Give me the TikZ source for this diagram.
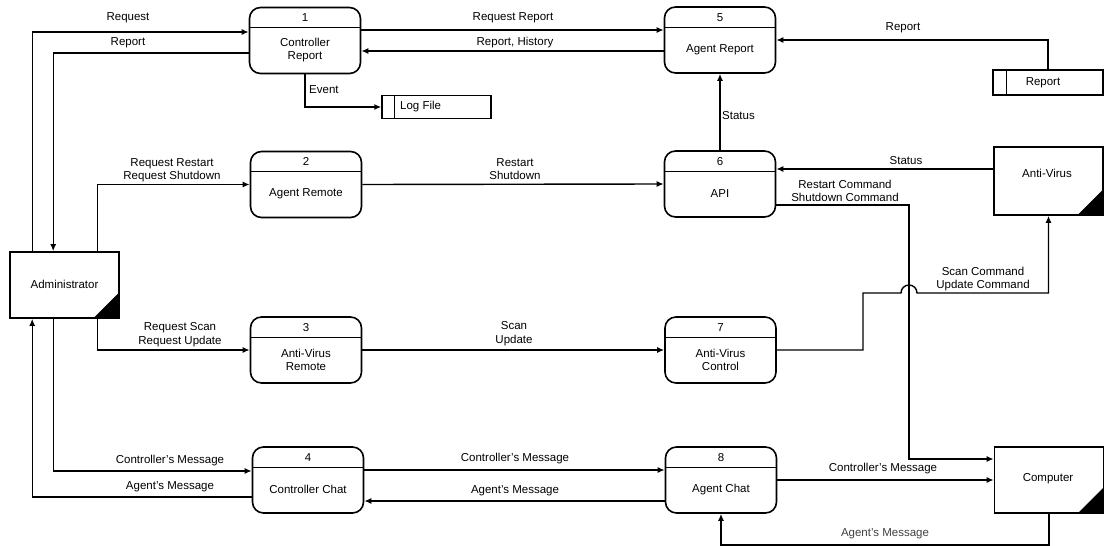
\documentclass[tikz,border=0pt]{standalone}
\usepackage{fontspec}
\setmainfont{Liberation Sans}
\usetikzlibrary{arrows.meta,calc}

% process: rounded box with a number strip on top
\newcommand\dfdproc[4]{%
  \node[proc] (#1) at (#2) {};
  \draw[divider] ([yshift=-21pt]#1.north west) -- ([yshift=-21pt]#1.north east);
  \node[txt] (#1-num) at ([yshift=-11pt]#1.north) {#3};
  \node[txt] (#1-name) at ([yshift=-43.5pt]#1.north) {#4};
}
% external entity: square box with a filled corner
\newcommand\dfdent[2]{%
  \node[ent] (#1) at (#2) {};
  \fill ([xshift=-27pt]#1.south east) -- (#1.south east) -- ([yshift=27pt]#1.south east) -- cycle;
}
% data store: box with a narrow id cell on the left
\newcommand\dfdstore[3]{%
  \node[store, minimum width=#3] (#1) at (#2) {};
  \draw[divider] ([xshift=13.5pt]#1.north west) -- ([xshift=13.5pt]#1.south west);
}

\begin{document}
\begin{tikzpicture}[x=1pt,y=-1pt,
  font=\fontsize{11.5}{13.5}\selectfont,
  proc/.style={draw, line width=1.6pt, rounded corners=11pt, minimum width=111pt, minimum height=66pt, inner sep=0pt},
  ent/.style={draw, line width=1.6pt, minimum width=109pt, minimum height=66pt, inner sep=0pt},
  store/.style={draw, line width=1.4pt, minimum height=23pt, inner sep=0pt},
  divider/.style={line width=1.3pt},
  txt/.style={inner sep=0pt, align=center},
  lbl/.style={inner sep=0pt, align=center},
  flow/.style={line width=1.4pt, -{Latex[length=7pt,width=6pt]}},
]
\useasboundingbox (0,0) rectangle (1104,546);

% processes
\dfdproc{p1}{305,40.5}{1}{Controller\\Report}
\dfdproc{p5}{720,40}{5}{Agent Report}
\dfdproc{p2}{306,184.5}{2}{Agent Remote}
\dfdproc{p6}{720,184}{6}{API}
\dfdproc{p3}{306,350}{3}{Anti-Virus\\Remote}
\dfdproc{p7}{720.5,350}{7}{Anti-Virus\\Control}
\dfdproc{p4}{308,480}{4}{Controller Chat}
\dfdproc{p8}{721,480}{8}{Agent Chat}

% external entities
\dfdent{adm}{64.5,285}
\node[txt] (adm-t) at (64.5,284.5) {Administrator};
\node[ent, minimum height=68pt] (av) at (1048.5,181) {};
\fill ([xshift=-27pt]av.south east) -- (av.south east) -- ([yshift=27pt]av.south east) -- cycle;
\node[txt] (av-t) at (1047,173) {Anti-Virus};
\dfdent{cmp}{1049,480}
\node[txt] (cmp-t) at (1048,478.5) {Computer};

% data stores
\dfdstore{log}{436.5,107}{109pt}
\node[txt, anchor=west] (log-t) at (400,106.5) {Log File};
\node[store, minimum width=110pt, minimum height=25pt] (rep) at (1048,82.5) {};
\draw[divider] ([xshift=14pt]rep.north west) -- ([xshift=14pt]rep.south west);
\node[txt] (rep-t) at (1043,83) {Report};

% Administrator <-> processes
\draw[flow] ([xshift=23pt]adm.north west) |- ([yshift=8.5pt]p1.west);
\node[lbl] (l-req) at (128,18) {Request};
\draw[flow] ([yshift=-12.5pt]p1.west) -| ([xshift=44pt]adm.north west);
\node[lbl] (l-rep) at (128,43) {Report};
\draw[flow] ([xshift=88pt]adm.north west) |- (p2.west);
\node[lbl] (l-rr) at (172,170) {Request Restart\\Request Shutdown};
\draw[flow] ([xshift=88pt]adm.south west) |- (p3.west);
\node[lbl] (l-rs) at (180,334.5) {Request Scan\\Request Update};
\draw[flow] ([xshift=44pt]adm.south west) |- ([yshift=9pt]p4.west);
\node[lbl] (l-cm1) at (170,461) {Controller's Message};
\draw[flow] ([yshift=-17pt]p4.west) -| ([xshift=23pt]adm.south west);
\node[lbl] (l-am1) at (170,487) {Agent's Message};

% Controller Report <-> Agent Report, log
\draw[flow] ([yshift=10.5pt]p1.east) -- ([yshift=10pt]p5.west);
\node[lbl] (l-rqr) at (513,18) {Request Report};
\draw[flow] ([yshift=-11pt]p5.west) -- ([yshift=-10.5pt]p1.east);
\node[lbl] (l-rh) at (515,42.5) {Report, History};
\draw[flow] (p1.south) |- (log.west);
\node[lbl, anchor=west] (l-ev) at (309,90) {Event};

% report store -> Agent Report
\draw[flow] (rep.north) |- (p5.east);
\node[lbl] (l-rep2) at (903,27.5) {Report};

% API
\draw[flow] (p6.north) -- (p5.south);
\node[lbl, anchor=west] (l-st1) at (722,116) {Status};
\draw[flow] (p2.east) -- (p6.west);
\node[lbl] (l-rs2) at (515,169) {Restart\\Shutdown};
\draw[flow] ([yshift=12pt]av.west) -- ([yshift=15pt]p6.east);
\node[lbl] (l-st2) at (906,160.5) {Status};
\coordinate (bend1) at (909,205);
\draw[flow] ([yshift=-21pt]p6.east) -- (bend1) |- ([yshift=21pt]cmp.west);
\node[lbl] (l-rc) at (845,191) {Restart Command\\Shutdown Command};

% anti-virus
\draw[flow] (p3.east) -- (p7.west);
\node[lbl] (l-su) at (514,333.5) {Scan\\Update};
\coordinate (bend2) at (863,293);
\coordinate (hop) at (901,293);
\draw[flow] (p7.east) -| (bend2) -- (hop) arc[start angle=180, end angle=0, radius=8pt] -| (av.south);
\node[lbl] (l-sc) at (983,279) {Scan Command\\Update Command};

% chat
\draw[flow] ([yshift=10pt]p4.east) -- ([yshift=10pt]p8.west);
\node[lbl] (l-cm2) at (515,459) {Controller's Message};
\draw[flow] ([yshift=-21pt]p8.west) -- ([yshift=-21pt]p4.east);
\node[lbl] (l-am2) at (515,490.5) {Agent's Message};
\draw[flow] (p8.east) -- (cmp.west);
\node[lbl] (l-cm3) at (883,468.5) {Controller's Message};
\draw[flow] (cmp.south) -- ++(0,31) -| (p8.south);
\node[lbl, text=black!75] (l-am3) at (885,534) {Agent's Message};
\end{tikzpicture}
\end{document}
